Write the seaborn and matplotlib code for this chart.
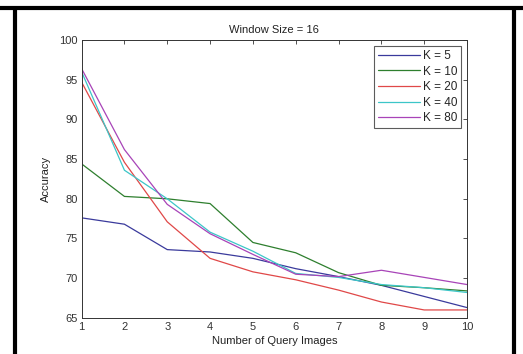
import matplotlib
matplotlib.use("Agg")
import matplotlib.pyplot as plt
import seaborn as sns
import pandas as pd
from matplotlib.lines import Line2D

# data
query_images = [1, 2, 3, 4, 5, 6, 7, 8, 9, 10]
k_labels = ["K = 5", "K = 10", "K = 20", "K = 40", "K = 80"]
acc_k5 = [77.6, 76.8, 73.6, 73.3, 72.5, 71.2, 70.2, 69.1, 67.7, 66.3]
acc_k10 = [84.4, 80.3, 80.0, 79.4, 74.5, 73.2, 70.7, 69.1, 68.8, 68.4]
acc_k20 = [94.7, 84.6, 77.1, 72.5, 70.8, 69.8, 68.5, 67.0, 66.0, 66.0]
acc_k40 = [96.0, 83.6, 80.0, 75.8, 73.4, 70.6, 70.1, 69.2, 68.8, 68.2]
acc_k80 = [96.4, 86.2, 79.3, 75.6, 73.0, 70.5, 70.2, 71.0, 70.1, 69.2]

series = [acc_k5, acc_k10, acc_k20, acc_k40, acc_k80]
rows = []
for lab, vals in zip(k_labels, series):
    for x, v in zip(query_images, vals):
        rows.append({"Number of Query Images": x, "Accuracy": v, "K": lab})
df = pd.DataFrame(rows)

palette = ["#3a3a9c", "#2e7f2e", "#e04848", "#3cc6c8", "#a844b8"]

sns.set_theme(style="white")
plt.rcParams["font.family"] = ["Liberation Sans", "DejaVu Sans"]

fig = plt.figure(figsize=(5.23, 3.54), dpi=100)
ax = fig.add_axes([0.156, 0.102, 0.737, 0.785])

sns.lineplot(data=df, x="Number of Query Images", y="Accuracy", hue="K",
             palette=palette, linewidth=0.9, ax=ax, legend=True)

ax.set_xlim(1, 10)
ax.set_ylim(65, 100)
ax.set_xticks(query_images)
ax.set_yticks([65, 70, 75, 80, 85, 90, 95, 100])
ax.tick_params(direction="in", length=3, width=0.6, top=True, right=True,
               labelsize=8, colors="#333333", pad=3)
for s in ax.spines.values():
    s.set_color("#333333")
    s.set_linewidth(0.7)

ax.set_title("Window Size = 16", fontsize=8, color="#222222", pad=5)
ax.set_xlabel("Number of Query Images", fontsize=8, color="#222222", labelpad=3)
ax.set_ylabel("Accuracy", fontsize=8, color="#222222", labelpad=6)

leg = ax.legend(loc="upper right", fontsize=8.5, handlelength=3.6,
                handletextpad=0.2, labelspacing=0.3, borderpad=0.35,
                frameon=True, fancybox=False, borderaxespad=0.5)
leg.get_frame().set_edgecolor("#333333")
leg.get_frame().set_linewidth(0.8)

# black frame around the figure
fig.add_artist(Line2D([0, 1], [0.978, 0.978], color="black", linewidth=3,
                      transform=fig.transFigure))
fig.add_artist(Line2D([0.029, 0.029], [0, 0.978], color="black", linewidth=3,
                      transform=fig.transFigure))
fig.add_artist(Line2D([0.983, 0.983], [0, 0.978], color="black", linewidth=3,
                      transform=fig.transFigure))

fig.savefig("out.png", dpi=100, facecolor="white")
